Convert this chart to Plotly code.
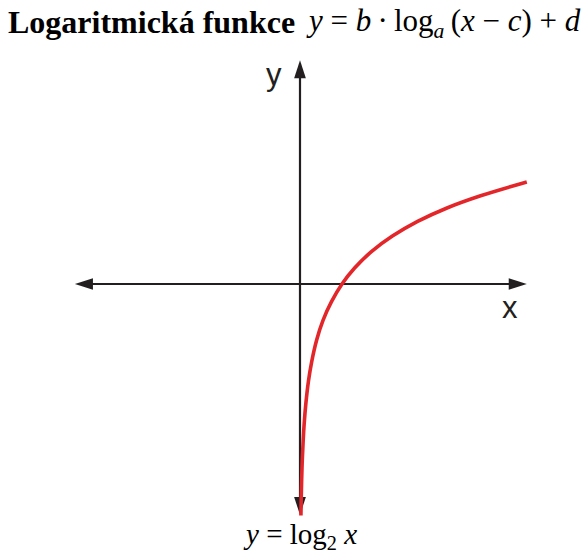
import plotly.graph_objects as go

# Curve y = log2 x
curve_x = [0.022, 0.03, 0.04, 0.055, 0.075, 0.1, 0.14, 0.2, 0.28, 0.4, 0.55, 0.75, 1.0, 1.3, 1.7, 2.2, 2.8, 3.5, 4.3, 5.4]
curve_y = [-5.51, -5.06, -4.64, -4.18, -3.74, -3.32, -2.84, -2.32, -1.84, -1.32, -0.86, -0.42, 0.0, 0.38, 0.77, 1.14, 1.49, 1.81, 2.10, 2.43]

# Axis extents (data units)
x_axis_ends = [-5.36, 5.40]
y_axis_ends = [-5.50, 5.33]

title_name = "<b>Logaritmická funkce</b>"
title_formula = "<i>y</i> = <i>b</i>\u2009·\u2009log<sub><i>a</i></sub>\u2009(<i>x</i> − <i>c</i>) + <i>d</i>"
bottom_text = "<i>y</i> = log<sub>2</sub> <i>x</i>"

W, H = 585, 553
ox, oy, unit = 300, 284, 42.0

fig = go.Figure()

axis_col = "#231f20"
# axis lines
fig.add_trace(go.Scatter(x=[x_axis_ends[0] + 0.3, x_axis_ends[1] - 0.3], y=[0, 0], mode="lines",
                         line=dict(color=axis_col, width=2.2), hoverinfo="skip"))
fig.add_trace(go.Scatter(x=[0, 0], y=[y_axis_ends[0] + 0.3, y_axis_ends[1] - 0.3], mode="lines",
                         line=dict(color=axis_col, width=2.2), hoverinfo="skip"))
# arrow heads
fig.add_trace(go.Scatter(
    x=[x_axis_ends[1], x_axis_ends[0], 0, 0],
    y=[0, 0, y_axis_ends[1], y_axis_ends[0]],
    mode="markers",
    marker=dict(symbol="arrow", size=19, angle=[90, 270, 0, 180], color=axis_col,
                line=dict(width=0)),
    hoverinfo="skip"))

# curve
fig.add_trace(go.Scatter(x=curve_x, y=curve_y, mode="lines", line=dict(color="#e3262a", width=3.6, shape="spline"),
                         hoverinfo="skip"))

fig.add_annotation(x=-0.62, y=5.0, text="y", showarrow=False, xref="x", yref="y",
                   font=dict(family="Liberation Sans, Arial", size=31, color=axis_col))
fig.add_annotation(x=5.0, y=-0.55, text="x", showarrow=False, xref="x", yref="y",
                   font=dict(family="Liberation Sans, Arial", size=31, color=axis_col))

fig.add_annotation(x=0.0, y=1.0, xref="paper", yref="paper", xanchor="left", yanchor="top",
                   xshift=6, yshift=-2, text=title_name, showarrow=False,
                   font=dict(family="Liberation Serif, Times New Roman", size=32, color="black"))
fig.add_annotation(x=1.0, y=1.0, xref="paper", yref="paper", xanchor="right", yanchor="top",
                   xshift=-2, yshift=-1, text=title_formula, showarrow=False,
                   font=dict(family="Liberation Serif, Times New Roman", size=31, color="black"))
fig.add_annotation(x=0.0, y=-6.0, xref="x", yref="y", text=bottom_text, showarrow=False,
                   font=dict(family="Liberation Serif, Times New Roman", size=29, color="black"))

fig.update_layout(
    width=W, height=H, autosize=False,
    margin=dict(l=0, r=0, t=0, b=0),
    paper_bgcolor="white", plot_bgcolor="white",
    showlegend=False,
    xaxis=dict(range=[-ox / unit, (W - ox) / unit], visible=False, fixedrange=True),
    yaxis=dict(range=[-(H - oy) / unit, oy / unit], visible=False, fixedrange=True),
)

fig.write_html("out.html", config={"displayModeBar": False},
               post_script="document.body.style.margin='0';document.body.style.overflow='hidden';")
